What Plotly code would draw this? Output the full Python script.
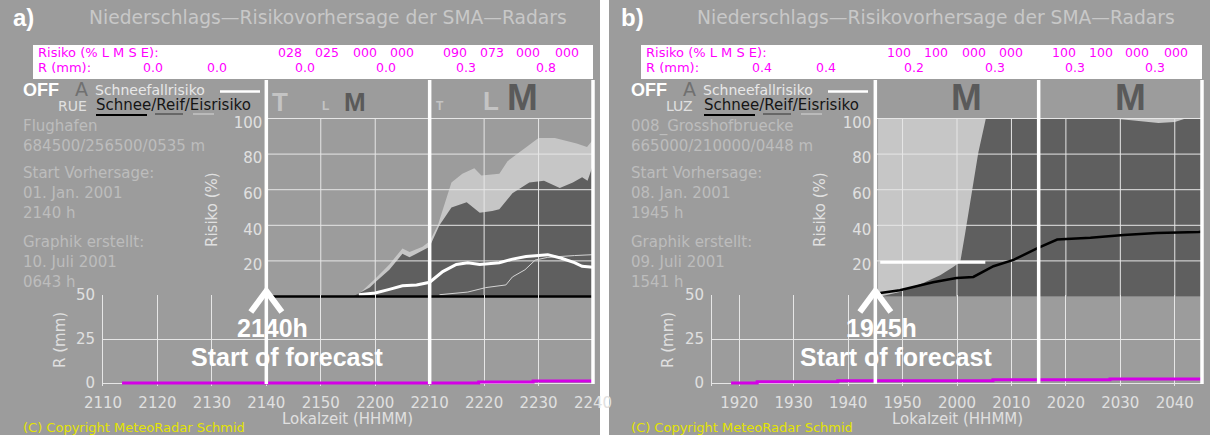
import plotly.graph_objects as go

W, H = 1210, 435

# ---------------- data ----------------
PANEL_LABELS = ["a)", "b)"]
TITLE = "Niederschlags\u2014Risikovorhersage der SMA\u2014Radars"
STATION_CODES = ["RUE", "LUZ"]
STATION_NAMES = ["Flughafen", "008_Grosshofbruecke"]
STATION_COORDS = ["684500/256500/0535 m", "665000/210000/0448 m"]
START_DATES = ["01. Jan. 2001", "08. Jan. 2001"]
START_TIMES = ["2140", "1945"]
CREATED_DATES = ["10. Juli 2001", "09. Juli 2001"]
CREATED_TIMES = ["0643", "1541"]

RISK_CODES_A = ["028", "025", "000", "000", "090", "073", "000", "000"]
RISK_CODES_B = ["100", "100", "000", "000", "100", "100", "000", "000"]
R_MM_A = ["0.0", "0.0", "0.0", "0.0", "0.3", "0.8"]
R_MM_B = ["0.4", "0.4", "0.2", "0.3", "0.3", "0.3"]

TICKS_A = ["2110", "2120", "2130", "2140", "2150", "2200", "2210", "2220", "2230", "2240"]
TICKS_B = ["1920", "1930", "1940", "1950", "2000", "2010", "2020", "2030", "2040"]

RISK_TICKS = [20, 40, 60, 80, 100]
R_TICKS = [0, 25, 50]

# panel a curves: minutes after forecast start, risk in %
A_LIGHT_T = [0, 16.5, 20, 22.6, 25, 26.3, 28.7, 30, 31.5, 32.4, 34, 36, 38.2, 39.5, 42.8, 44.3, 46.5, 50, 53, 57, 58.9, 60]
A_LIGHT_V = [0, 0, 10, 18, 27, 25, 28, 31, 40, 49, 64, 69, 72, 68, 69, 76, 81, 89, 89, 86, 84, 88]
A_DARK_T = [0, 15.9, 19, 20, 22.6, 25, 26.3, 28.7, 30, 31.8, 34, 36.8, 39.2, 41.5, 42.8, 45.2, 48.3, 51, 53.9, 56.3, 58, 59, 59.8, 60]
A_DARK_V = [0, 0, 5, 8, 15, 24, 22, 26, 28, 40, 50, 53, 47, 48, 49, 58, 64, 65, 61, 64, 67, 65, 72, 72]
A_SNOWFALL_T = [17, 20, 22.6, 25, 27.6, 30, 32.4, 34.9, 37, 39.2, 42.8, 45.2, 47.7, 50, 51.7, 54.2, 56.6, 58, 60]
A_SNOWFALL_V = [1, 2, 4, 6, 6.5, 8, 14, 18, 19, 18, 19, 21, 22.5, 23, 23.5, 21.5, 19, 17, 16.5]
A_THIN_T = [31.8, 37, 40.3, 44, 45.2, 47.5, 49.4, 51.7, 56.6, 60]
A_THIN_V = [1, 2.5, 5, 6.5, 11, 15, 20.5, 22, 23, 23.5]
A_SNOW_T = [0, 60]
A_SNOW_V = [0, 0]
A_PRECIP_T = [-26.5, 39, 49, 60]
A_PRECIP_V = [0, 0.5, 1.1, 1.1]

# panel b curves
B_LIGHT_T = [0.5, 60]
B_LIGHT_V = [100, 100]
B_DARK_T = [0.9, 4.5, 8.8, 11.9, 14.3, 15.6, 16.5, 17.7, 18.9, 20.3, 43.5, 47, 52, 55, 57, 60]
B_DARK_V = [0, 2.5, 7.6, 12, 16.6, 19.4, 35.6, 58, 80.6, 100, 100, 99, 97.5, 98, 100, 100]
B_SNOWFALL_T = [0.9, 20.2]
B_SNOWFALL_V = [19.3, 19.3]
B_THIN_T = []
B_THIN_V = []
B_SNOW_T = [0.9, 4.5, 10.6, 14.9, 18, 21.7, 25.4, 29.7, 33.4, 39.5, 45.6, 51.7, 59.4, 60]
B_SNOW_V = [2, 3.5, 8, 10.4, 11, 17, 20.6, 27, 32, 33, 34.5, 35.7, 36.3, 36.4]
B_PRECIP_T = [-26.5, -21.7, -6.9, 21.6, 43.1, 60]
B_PRECIP_V = [0, 0.7, 1.3, 1.8, 2.3, 2.3]

# ---------------- style / geometry ----------------
BG = "#9c9c9c"
LIGHT_FILL = "#c6c6c6"
DARK_FILL = "#5f5f5f"
GRID = "#e6e6e6"
TXT = "#e0e0e0"
INFO = "#bdbdbd"
MAGENTA = "#ff00ff"
PRECIP_COL = "#d400e6"
FONT = "DejaVu Sans"
BOLD = "Liberation Sans, Arial"

PPM = 490 / 90.0          # px per minute
SR = 1.78                 # px per % risk
Y0R = 296.5               # px of 0 % risk
SP = 1.76                 # px per mm
Y0P = 383.0               # px of 0 mm


def hhmm(s):
    return int(s[:2]) * 60 + int(s[2:])


def dom(pb, pt):
    return [1 - pb / H, 1 - pt / H]


def sfx(k):
    return "" if k == 1 else str(k)


panels = [
    dict(x0=103, dx=0, start=START_TIMES[0], ticks=TICKS_A, codes=RISK_CODES_A, rmm=R_MM_A,
         light=(A_LIGHT_T, A_LIGHT_V), dark=(A_DARK_T, A_DARK_V), snowfall=(A_SNOWFALL_T, A_SNOWFALL_V),
         thin=(A_THIN_T, A_THIN_V), snow=(A_SNOW_T, A_SNOW_V), precip=(A_PRECIP_T, A_PRECIP_V)),
    dict(x0=712, dx=608, start=START_TIMES[1], ticks=TICKS_B, codes=RISK_CODES_B, rmm=R_MM_B,
         light=(B_LIGHT_T, B_LIGHT_V), dark=(B_DARK_T, B_DARK_V), snowfall=(B_SNOWFALL_T, B_SNOWFALL_V),
         thin=(B_THIN_T, B_THIN_V), snow=(B_SNOW_T, B_SNOW_V), precip=(B_PRECIP_T, B_PRECIP_V)),
]

CODE_REL = [187, 224, 262, 299, 352, 389, 425, 464]
RMM_REL = [50, 114, 202, 283, 363, 443]

fig = go.Figure()
layout = {}
ANN = []
SHAPES = []


def text(px, py, s, size, color, xanchor="left", family=FONT, bold=False, angle=0):
    ANN.append(dict(x=px / W, y=1 - py / H, xref="paper", yref="paper", text=s, showarrow=False,
                    xanchor=xanchor, yanchor="middle", textangle=angle, borderpad=0,
                    font=dict(family=family, size=size, color=color, weight="bold" if bold else "normal")))


def pline(x0, y0, x1, y1, color, width):
    SHAPES.append(dict(type="line", xref="paper", yref="paper", x0=x0 / W, x1=x1 / W,
                       y0=1 - y0 / H, y1=1 - y1 / H, line=dict(color=color, width=width)))


def prect(x0, y0, x1, y1, color):
    SHAPES.append(dict(type="rect", xref="paper", yref="paper", x0=x0 / W, x1=x1 / W,
                       y0=1 - y1 / H, y1=1 - y0 / H, fillcolor=color, line=dict(width=0), layer="below"))


# white gutter between the two panels
prect(600, 0, 609, H, "white")

for i, P in enumerate(panels):
    n = 3 * i + 1
    X0 = P["x0"]
    X1 = X0 + 490
    XS = X0 + 30 * PPM
    dx = P["dx"]
    start = hhmm(P["start"])
    tickt = [hhmm(s) - start for s in P["ticks"]]

    rx, ry = "x" + sfx(n), "y" + sfx(n)
    px_, py_ = "x" + sfx(n + 1), "y" + sfx(n + 1)
    ox, oy = "x" + sfx(n + 2), "y" + sfx(n + 2)

    # risk subplot
    r_lo, r_hi = -1.7, 100.6
    layout["xaxis" + sfx(n)] = dict(domain=[XS / W, X1 / W], range=[0, 60], visible=False, anchor=ry,
                                    automargin=False)
    layout["yaxis" + sfx(n)] = dict(domain=dom(Y0R - r_lo * SR, Y0R - r_hi * SR), range=[r_lo, r_hi],
                                    anchor=rx, tickvals=RISK_TICKS, ticktext=[str(v) for v in RISK_TICKS],
                                    showgrid=False, zeroline=False, showline=False, ticks="", automargin=False,
                                    ticklabelstandoff=3, ticklabelshift=4,
                                    tickfont=dict(family=FONT, size=15, color=TXT))
    # precipitation subplot
    p_lo, p_hi = -1.7, 50
    layout["xaxis" + sfx(n + 1)] = dict(domain=[X0 / W, X1 / W], range=[-30, 60], anchor=py_,
                                        tickvals=tickt, ticktext=P["ticks"], showgrid=True, gridcolor=GRID,
                                        gridwidth=1, zeroline=False, showline=False, ticks="", automargin=False,
                                        ticklabelstandoff=6, tickfont=dict(family=FONT, size=15, color=TXT))
    layout["yaxis" + sfx(n + 1)] = dict(domain=dom(Y0P - p_lo * SP, Y0P - p_hi * SP), range=[p_lo, p_hi],
                                        anchor=px_, tickvals=R_TICKS, ticktext=[str(v) for v in R_TICKS],
                                        showgrid=True, gridcolor=GRID, gridwidth=1, zeroline=False,
                                        showline=True, linecolor=GRID, linewidth=1, ticks="", automargin=False,
                                        ticklabelstandoff=4, tickfont=dict(family=FONT, size=15, color=TXT))
    # overlay subplot (same time scale, risk scale extended over the whole height)
    pad = 6
    layout["xaxis" + sfx(n + 2)] = dict(domain=[(X0 - pad) / W, (X1 + pad) / W],
                                        range=[-30 - pad / PPM, 60 + pad / PPM], visible=False, anchor=oy,
                                        automargin=False)
    layout["yaxis" + sfx(n + 2)] = dict(domain=[0, 1], range=[(Y0R - H) / SR, Y0R / SR], visible=False,
                                        anchor=ox, automargin=False)

    # --- risk traces ---
    common = dict(mode="lines", hoverinfo="skip", showlegend=False)
    lt, lv = P["light"]
    fig.add_trace(go.Scatter(x=lt, y=lv, xaxis=rx, yaxis=ry, fill="tozeroy", fillcolor=LIGHT_FILL,
                             line=dict(width=0, color=LIGHT_FILL), **common))
    dt, dv = P["dark"]
    fig.add_trace(go.Scatter(x=dt, y=dv, xaxis=rx, yaxis=ry, fill="tozeroy", fillcolor=DARK_FILL,
                             line=dict(width=0, color=DARK_FILL), **common))
    # grid above the fills
    gx, gy = [], []
    for v in RISK_TICKS:
        gx += [0, 60, None]
        gy += [v, v, None]
    for t in tickt:
        if 0 < t < 60 and t != 30:
            gx += [t, t, None]
            gy += [0, 100, None]
    fig.add_trace(go.Scatter(x=gx, y=gy, xaxis=rx, yaxis=ry, line=dict(color=GRID, width=1), **common))
    tt, tv = P["thin"]
    if tt:
        fig.add_trace(go.Scatter(x=tt, y=tv, xaxis=rx, yaxis=ry, line=dict(color="#d4d4d4", width=1), **common))
    st, sv = P["snowfall"]
    fig.add_trace(go.Scatter(x=st, y=sv, xaxis=rx, yaxis=ry, line=dict(color="white", width=3), **common))
    bt, bv = P["snow"]
    fig.add_trace(go.Scatter(x=bt, y=bv, xaxis=rx, yaxis=ry, line=dict(color="black", width=2.5), **common))

    # --- precipitation ---
    ptt, pvv = P["precip"]
    fig.add_trace(go.Scatter(x=ptt, y=pvv, xaxis=px_, yaxis=py_, line=dict(color=PRECIP_COL, width=3, shape="hv"),
                             **common))

    # --- overlay: block separators and start arrow ---
    top_v = (Y0R - 80) / SR
    bot_v = (Y0R - 384) / SR
    vx, vy = [], []
    for t in (0, 30, 60):
        vx += [t, t, None]
        vy += [top_v, bot_v, None]
    fig.add_trace(go.Scatter(x=vx, y=vy, xaxis=ox, yaxis=oy, line=dict(color="white", width=3.5), **common))
    fig.add_trace(go.Scatter(x=[-2.85, 0, 2.85], y=[(Y0R - 312) / SR, (Y0R - 291) / SR, (Y0R - 312) / SR],
                             xaxis=ox, yaxis=oy, line=dict(color="white", width=6), **common))

    # --- header / texts ---
    text(12 + dx, 17, PANEL_LABELS[i], 24, "white", family=BOLD, bold=True)
    text(88 + dx, 17, TITLE, 18.7, "#c8c8c8")
    prect(33 + dx, 45, X1, 79, "white")
    text(37 + dx, 53, "Risiko (% L M S E):", 13, MAGENTA)
    text(37 + dx, 68, "R (mm):", 13, MAGENTA)
    for rel, s in zip(CODE_REL, P["codes"]):
        text(X0 + rel, 53, s, 12.5, MAGENTA, xanchor="center")
    for rel, s in zip(RMM_REL, P["rmm"]):
        text(X0 + rel, 68, s, 12.5, MAGENTA, xanchor="center")

    text(22 + dx, 90, "OFF", 18, "white", family=BOLD, bold=True)
    text(74 + dx, 89, "A", 19, "#707070")
    text(94 + dx, 90, "Schneefallrisiko", 14, "#e8e8e8")
    pline(220 + dx, 91.5, 260 + dx, 91.5, "white", 2.5)
    text(57 + dx, 106, STATION_CODES[i], 14, TXT)
    text(95 + dx, 105, "Schnee/Reif/Eisrisiko", 15, "#151515")
    pline(96 + dx, 115, 147 + dx, 115, "black", 2)
    pline(155 + dx, 114, 183 + dx, 114, "#333333", 1)
    pline(193 + dx, 114, 214 + dx, 114, "#d8d8d8", 1)

    info = [(126, STATION_NAMES[i]), (146, STATION_COORDS[i]), (173, "Start Vorhersage:"),
            (193, START_DATES[i]), (213, P["start"] + " h"), (242, "Graphik erstellt:"),
            (262, CREATED_DATES[i]), (282, CREATED_TIMES[i] + " h")]
    for y, s in info:
        text(22 + dx, y, s, 15, INFO)

    text(212 + dx, 210, "Risiko (%)", 15, TXT, xanchor="center", angle=-90)
    text(60 + dx, 340, "R (mm)", 15, TXT, xanchor="center", angle=-90)
    text(X0 + 245, 419, "Lokalzeit (HHMM)", 15, TXT, xanchor="center")
    text(22 + dx, 427, "(C) Copyright MeteoRadar Schmid", 13, "#e4e400")

    text(XS + 6, 328, P["start"] + "h", 25, "white", xanchor="center", family=BOLD, bold=True)
    text(XS + 21, 357, "Start of forecast", 25, "white", xanchor="center", family=BOLD, bold=True)

# header block letters
text(280, 102, "T", 26, "#c4c4c4", xanchor="center", family=BOLD, bold=True)
text(325, 106, "L", 12, "#c4c4c4", xanchor="center", family=BOLD, bold=True)
text(355, 102, "M", 26, "#5a5a5a", xanchor="center", family=BOLD, bold=True)
text(440, 106, "T", 12, "#c4c4c4", xanchor="center", family=BOLD, bold=True)
text(491, 101, "L", 26, "#c4c4c4", xanchor="center", family=BOLD, bold=True)
text(522, 98, "M", 37, "#5a5a5a", xanchor="center", family=BOLD, bold=True)
text(966, 98, "M", 37, "#5a5a5a", xanchor="center", family=BOLD, bold=True)
text(1130, 98, "M", 37, "#5a5a5a", xanchor="center", family=BOLD, bold=True)

fig.update_layout(width=W, height=H, margin=dict(l=0, r=0, t=0, b=0, pad=0, autoexpand=False), paper_bgcolor=BG,
                  plot_bgcolor="rgba(0,0,0,0)", showlegend=False, annotations=ANN, shapes=SHAPES, **layout)
fig.write_html("out.html", config={"displayModeBar": False},
               post_script="document.body.style.margin='0';document.body.style.background='#9c9c9c';")
